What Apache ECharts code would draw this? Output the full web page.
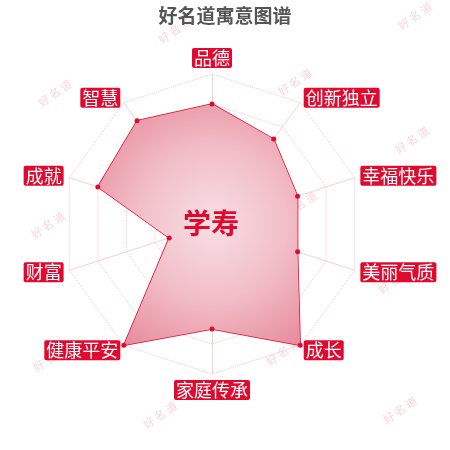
<!DOCTYPE html>
<html>
<head>
<meta charset="utf-8">
<script src="https://cdn.jsdelivr.net/npm/echarts@6/dist/echarts.min.js"></script>
<style>
  html, body { margin: 0; padding: 0; background: #fff; }
  #chart { width: 450px; height: 450px; }
</style>
</head>
<body>
<div id="chart"></div>
<script>
// indicators in counter-clockwise order, starting at the top
const indicatorNames = ['品德', '智慧', '成就', '财富', '健康平安', '家庭传承', '成长', '美丽气质', '幸福快乐', '创新独立'];
const scoreValues = [80, 85, 80, 30, 100, 70, 100, 60, 60, 70];
const maxScore = 100;
const nameText = '学寿';
const titleText = '好名道寓意图谱';
const watermarkText = '好 名 道';

const RED = '#e2092f';
const chart = echarts.init(document.getElementById('chart'));

// watermark spots
const marks = [
  [175, 30], [415, 16], [55, 93], [295, 82], [412, 140], [48, 225],
  [300, 205], [395, 280], [50, 358], [283, 352], [160, 415], [400, 410]
];
const watermarks = marks.map(function (p) {
  return {
    type: 'text',
    x: p[0],
    y: p[1],
    rotation: 0.6,
    z: -10,
    style: {
      text: watermarkText,
      fill: 'rgba(238, 160, 180, 0.45)',
      font: '11px "Noto Sans CJK SC"',
      align: 'center',
      verticalAlign: 'middle'
    }
  };
});

const option = {
  backgroundColor: '#fff',
  title: {
    text: titleText,
    left: 'center',
    top: 1,
    textStyle: { color: '#555', fontSize: 19, fontWeight: 'bold', fontFamily: 'Noto Sans CJK SC' }
  },
  graphic: watermarks.concat([{
    type: 'text',
    x: 211,
    y: 223,
    z: 100,
    style: {
      text: nameText,
      fill: RED,
      font: 'bold 28px "Noto Sans CJK SC"',
      align: 'center',
      verticalAlign: 'middle'
    }
  }]),
  radar: {
    center: [212, 224],
    radius: 150,
    splitNumber: 5,
    shape: 'polygon',
    nameGap: 6,
    indicator: indicatorNames.map(function (n) { return { name: n, max: maxScore }; }),
    axisName: {
      color: '#fff',
      backgroundColor: RED,
      fontSize: 18,
      fontFamily: 'Noto Sans CJK SC',
      lineHeight: 18,
      padding: [1, 2],
      borderRadius: 2
    },
    axisLine: { lineStyle: { color: '#f5d0d7', width: 1 } },
    splitLine: { lineStyle: { color: '#f0c6cf', type: 'dotted', width: 1 } },
    splitArea: { show: false }
  },
  series: [{
    type: 'radar',
    symbol: 'circle',
    symbolSize: 5,
    itemStyle: { color: RED },
    lineStyle: { color: RED, width: 1.5 },
    areaStyle: {
      opacity: 1,
      color: new echarts.graphic.RadialGradient(212, 224, 150, [
        { offset: 0, color: '#f8dfe4' },
        { offset: 0.5, color: '#f2bec8' },
        { offset: 1, color: '#e78a9a' }
      ], true)
    },
    data: [{ value: scoreValues, name: nameText }]
  }]
};

chart.setOption(option);
</script>
</body>
</html>
